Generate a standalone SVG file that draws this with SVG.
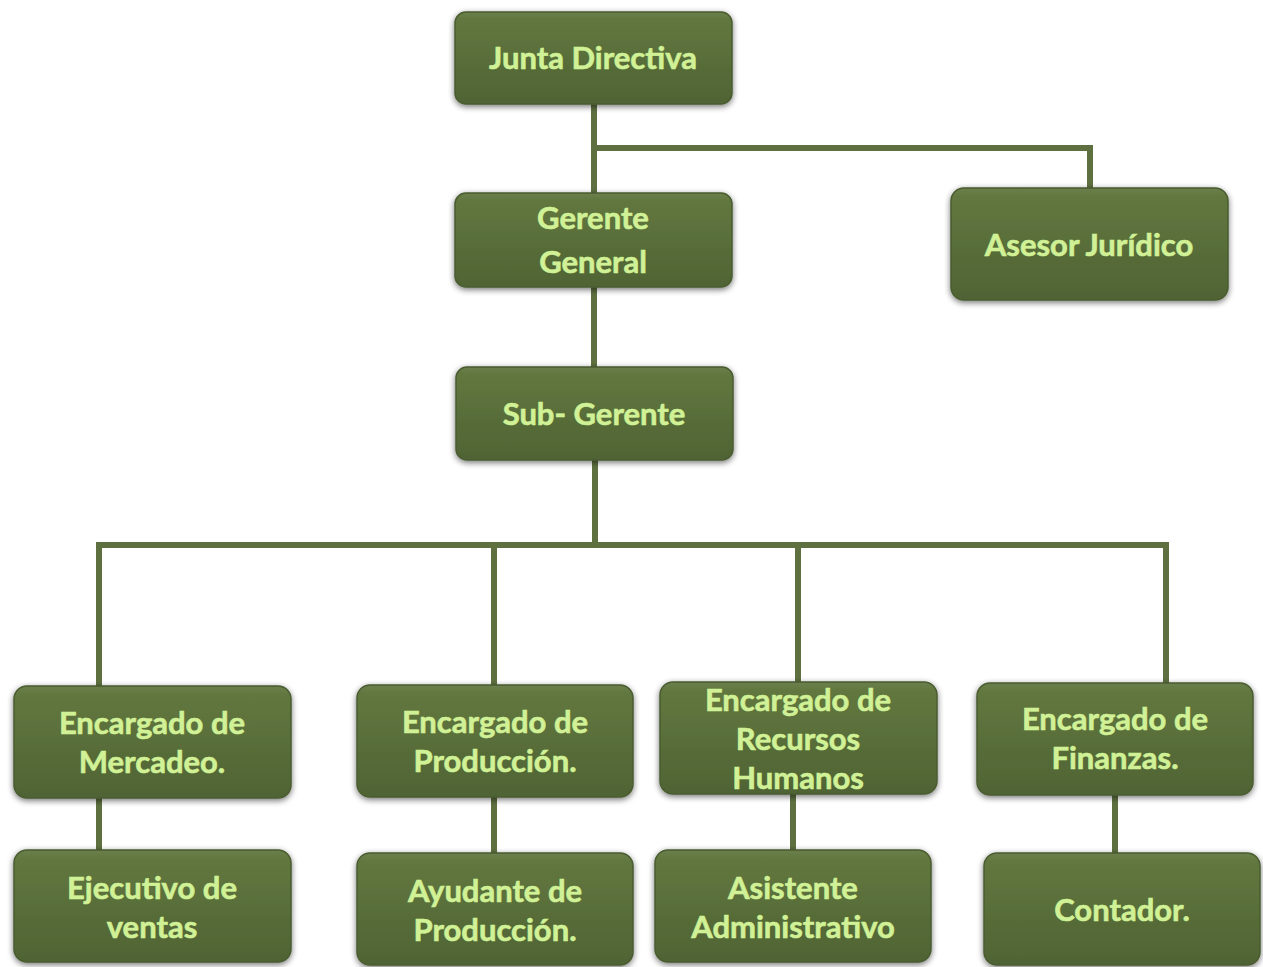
<svg xmlns="http://www.w3.org/2000/svg" width="1263" height="967" viewBox="0 0 1263 967">
  <defs>
    <linearGradient id="boxFill" x1="0" y1="0" x2="0" y2="1">
      <stop offset="0" stop-color="#6a7f4b"/>
      <stop offset="0.08" stop-color="#62773f"/>
      <stop offset="1" stop-color="#4f6334"/>
    </linearGradient>
    <filter id="shadow" x="-10%" y="-15%" width="120%" height="135%">
      <feGaussianBlur in="SourceAlpha" stdDeviation="3"/>
      <feOffset dx="0" dy="2" result="b"/>
      <feComponentTransfer><feFuncA type="linear" slope="0.55"/></feComponentTransfer>
      <feMerge><feMergeNode/><feMergeNode in="SourceGraphic"/></feMerge>
    </filter>
  </defs>
  <style>
    .box { fill: url(#boxFill); stroke: #4a5c30; stroke-width: 1.5; filter: url(#shadow); }
    .lbl { font-family: Lato, "Open Sans", "Liberation Sans", sans-serif; font-weight: bold; font-size: 31px; fill: #d1f196; stroke: #d1f196; stroke-width: 0.6; text-anchor: middle; }
    .link { fill: none; stroke: #5e7040; stroke-width: 6; }
  </style>
  <rect width="1263" height="967" fill="#ffffff"/>

  <!-- reporting lines -->
  <g id="connectors">
    <path class="link" d="M594 104 V193"/>
    <path class="link" d="M594 148 H1090 V188"/>
    <path class="link" d="M594 287 V367"/>
    <path class="link" d="M595 460 V545"/>
    <path class="link" d="M99 686 V545 H1166 V683"/>
    <path class="link" d="M494 545 V685"/>
    <path class="link" d="M798 545 V682"/>
    <path class="link" d="M99 798 V850"/>
    <path class="link" d="M494 797 V853"/>
    <path class="link" d="M793 794 V850"/>
    <path class="link" d="M1115 795 V853"/>
  </g>

  <g id="junta-directiva">
    <rect class="box" x="455" y="12" width="277" height="92" rx="11"/>
    <text class="lbl" x="593" y="69">Junta Directiva</text>
  </g>
  <g id="gerente-general">
    <rect class="box" x="455" y="193" width="277" height="94" rx="11"/>
    <text class="lbl" x="593" y="229">Gerente</text>
    <text class="lbl" x="593" y="273">General</text>
  </g>
  <g id="asesor-juridico">
    <rect class="box" x="951" y="188" width="277" height="112" rx="13"/>
    <text class="lbl" x="1089" y="256">Asesor Jurídico</text>
  </g>
  <g id="sub-gerente">
    <rect class="box" x="456" y="367" width="277" height="93" rx="11"/>
    <text class="lbl" x="594" y="425">Sub- Gerente</text>
  </g>

  <g id="encargado-mercadeo">
    <rect class="box" x="14" y="686" width="277" height="112" rx="13"/>
    <text class="lbl" x="152" y="734">Encargado de</text>
    <text class="lbl" x="152" y="773">Mercadeo.</text>
  </g>
  <g id="encargado-produccion">
    <rect class="box" x="357" y="685" width="276" height="112" rx="13"/>
    <text class="lbl" x="495" y="733">Encargado de</text>
    <text class="lbl" x="495" y="772">Producción.</text>
  </g>
  <g id="encargado-rrhh">
    <rect class="box" x="660" y="682" width="277" height="112" rx="13"/>
    <text class="lbl" x="798" y="711">Encargado de</text>
    <text class="lbl" x="798" y="750">Recursos</text>
    <text class="lbl" x="798" y="789">Humanos</text>
  </g>
  <g id="encargado-finanzas">
    <rect class="box" x="977" y="683" width="276" height="112" rx="13"/>
    <text class="lbl" x="1115" y="730">Encargado de</text>
    <text class="lbl" x="1115" y="769">Finanzas.</text>
  </g>

  <g id="ejecutivo-ventas">
    <rect class="box" x="14" y="850" width="277" height="112" rx="13"/>
    <text class="lbl" x="152" y="899">Ejecutivo de</text>
    <text class="lbl" x="152" y="938">ventas</text>
  </g>
  <g id="ayudante-produccion">
    <rect class="box" x="357" y="853" width="276" height="112" rx="13"/>
    <text class="lbl" x="495" y="902">Ayudante de</text>
    <text class="lbl" x="495" y="941">Producción.</text>
  </g>
  <g id="asistente-administrativo">
    <rect class="box" x="655" y="850" width="276" height="112" rx="13"/>
    <text class="lbl" x="793" y="899">Asistente</text>
    <text class="lbl" x="793" y="938">Administrativo</text>
  </g>
  <g id="contador">
    <rect class="box" x="984" y="853" width="276" height="112" rx="13"/>
    <text class="lbl" x="1122" y="921">Contador.</text>
  </g>
</svg>
